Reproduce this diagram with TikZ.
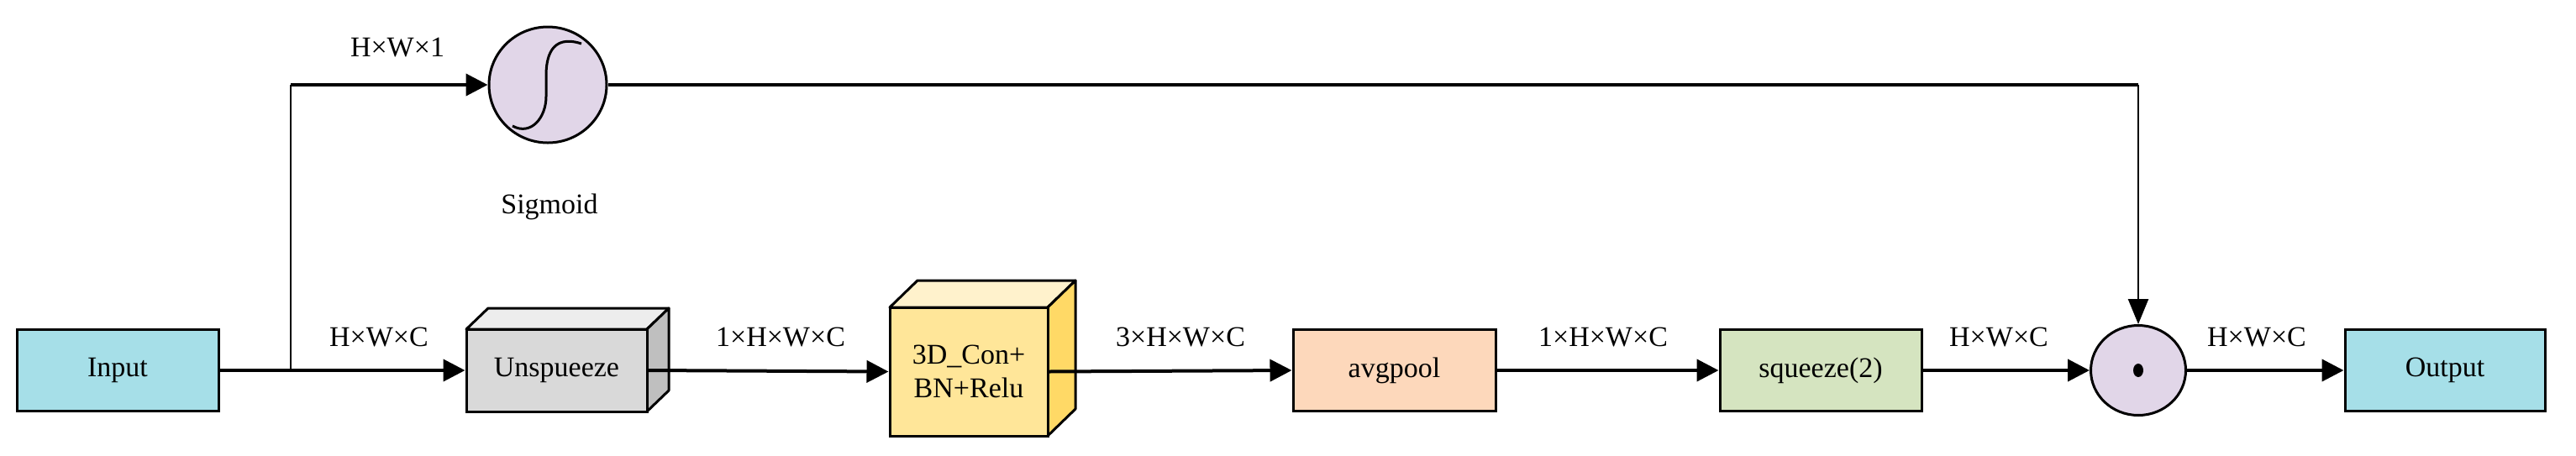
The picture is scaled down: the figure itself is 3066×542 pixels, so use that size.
\documentclass[tikz,border=0pt]{standalone}
\usepackage{fontspec}
\setmainfont{Liberation Serif}
\usetikzlibrary{arrows.meta,shapes.geometric}
\definecolor{cin}{HTML}{A6DFE8}
\definecolor{gfront}{HTML}{D9D9D9}
\definecolor{gtop}{HTML}{EDEDED}
\definecolor{gside}{HTML}{BFBFBF}
\definecolor{yfront}{HTML}{FFE699}
\definecolor{ytop}{HTML}{FFF2CC}
\definecolor{yside}{HTML}{FFD966}
\definecolor{avg}{HTML}{FDD8BB}
\definecolor{sq}{HTML}{D5E4C0}
\definecolor{pur}{HTML}{E1D6E8}
\begin{document}
\begin{tikzpicture}[x=1pt,y=-1pt,
  txt/.style={font=\fontsize{34}{40}\selectfont},
  box/.style={draw,line width=3pt,minimum width=#1,minimum height=97pt,inner sep=0pt,txt},
  conn/.style={line width=4pt,-{Triangle[length=26pt,width=26pt]}},
  thin/.style={line width=2.5pt},
  lab/.style={txt,inner sep=0pt}]
\useasboundingbox (0,0) rectangle (3066,542);
% nodes
\node[box=240pt,fill=cin] (in) at (140,441) {Input};
\node[draw,line width=3pt,fill=pur,ellipse,minimum width=140pt,minimum height=138pt,inner sep=0pt] (sig) at (652,101) {};
\draw[line width=3pt] (692,52) .. controls (655,40) and (650,70) .. (650,90) -- (650,115) .. controls (650,140) and (632,162) .. (610,150);
\node[lab] (siglab) at (654,246) {Sigmoid};
% unsqueeze 3D
\draw[line width=3pt,fill=gtop,line join=round] (555,392) -- (581,367) -- (796,367) -- (770,392) -- cycle;
\draw[line width=3pt,fill=gside,line join=round] (770,392) -- (796,367) -- (796,465) -- (770,490) -- cycle;
\node[box=215pt,fill=gfront,minimum height=98pt] (uns) at (662.5,441) {Unspueeze};
% conv 3D
\draw[line width=3pt,fill=ytop,line join=round] (1059,366) -- (1092,334) -- (1280,334) -- (1247,366) -- cycle;
\draw[line width=3pt,fill=yside,line join=round] (1247,366) -- (1280,334) -- (1280,487) -- (1247,519) -- cycle;
\node[box=188pt,fill=yfront,minimum height=153pt,align=center] (conv) at (1153,442.5) {3D\_Con+\\BN+Relu};
\node[box=241pt,fill=avg] (avg) at (1659.5,441) {avgpool};
\node[box=240pt,fill=sq] (sqz) at (2167,441) {squeeze(2)};
\node[draw,line width=3pt,fill=pur,ellipse,minimum width=113pt,minimum height=107pt,inner sep=0pt] (mul) at (2545,441) {};
\fill (mul.center) ellipse (6pt and 8pt);
\node[box=238pt,fill=cin] (out) at (2910,441) {Output};
% coordinates
\coordinate (br) at (346,441);
\coordinate (tl) at (346,101);
\coordinate (tr) at (2545,101);
% connectors
\draw[conn] (in.east) -- (uns.west);
\draw[thin] (br) -- (tl);
\draw[line width=4pt,-{Triangle[length=26pt,width=26pt]}] (tl) -- (sig.west);
\draw[line width=4pt] (sig.east) -- (tr);
\draw[thin,-{Triangle[length=30pt,width=24pt]}] (tr) -- (mul.north);
\draw[conn] (uns.east) -- (conv.west);
\draw[conn] (conv.east) -- (avg.west);
\draw[conn] (avg.east) -- (sqz.west);
\draw[conn] (sqz.east) -- (mul.west);
\draw[conn] (mul.east) -- (out.west);
% labels
\node[lab] (l1) at (473,57) {H×W×1};
\node[lab] (l2) at (451,401) {H×W×C};
\node[lab] (l3) at (929,401) {1×H×W×C};
\node[lab] (l4) at (1405,401) {3×H×W×C};
\node[lab] (l5) at (1908,401) {1×H×W×C};
\node[lab] (l6) at (2379,401) {H×W×C};
\node[lab] (l7) at (2686,401) {H×W×C};
\end{tikzpicture}
\end{document}
